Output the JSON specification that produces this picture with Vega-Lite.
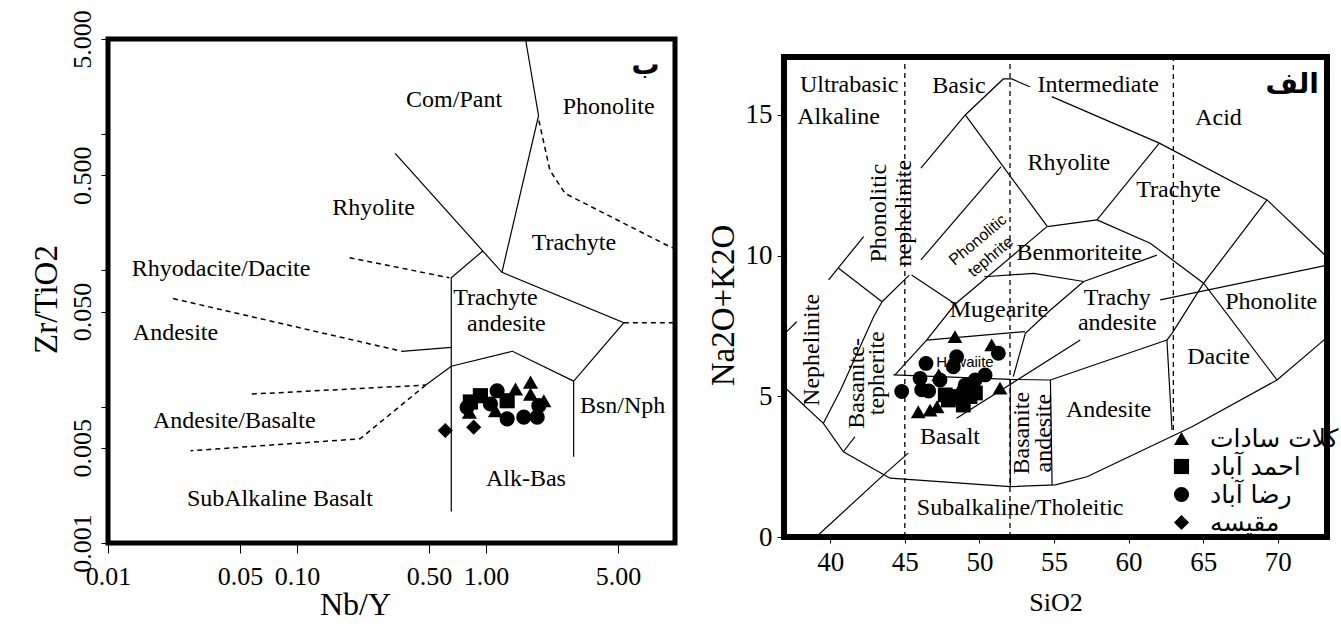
{
  "$schema": "https://vega.github.io/schema/vega-lite/v6.json",
  "background": "white",
  "padding": {"left": 27, "top": 7, "right": 5, "bottom": 5},
  "spacing": 23,
  "config": {
    "font": "Liberation Serif",
    "axis": {"grid": false, "domain": false, "tickColor": "black", "labelColor": "black", "titleColor": "black", "labelFont": "Liberation Serif", "titleFont": "Liberation Serif", "titleFontWeight": "normal"}
  },
  "resolve": {"scale": {"shape": "independent"}, "legend": {"shape": "independent"}},
  "datasets": {
    "leftSolid": [
      {"seg": "L1", "o": 1, "x": 1.618, "y": 5}, {"seg": "L1", "o": 2, "x": 1.897, "y": 1.37}, {"seg": "L1", "o": 3, "x": 1.214, "y": 0.097},
      {"seg": "L2", "o": 1, "x": 0.3306, "y": 0.7235}, {"seg": "L2", "o": 2, "x": 1.214, "y": 0.097}, {"seg": "L2", "o": 3, "x": 5.363, "y": 0.04136}, {"seg": "L2", "o": 4, "x": 2.909, "y": 0.01542}, {"seg": "L2", "o": 5, "x": 2.909, "y": 0.0043},
      {"seg": "L3", "o": 1, "x": 0.961, "y": 0.139}, {"seg": "L3", "o": 2, "x": 0.655, "y": 0.0885}, {"seg": "L3", "o": 3, "x": 0.655, "y": 0.0017},
      {"seg": "L4", "o": 1, "x": 0.3584, "y": 0.02553}, {"seg": "L4", "o": 2, "x": 0.655, "y": 0.0273},
      {"seg": "L5", "o": 1, "x": 0.4799, "y": 0.01442}, {"seg": "L5", "o": 2, "x": 0.655, "y": 0.01984}, {"seg": "L5", "o": 3, "x": 1.38, "y": 0.02553}, {"seg": "L5", "o": 4, "x": 2.909, "y": 0.01542}
    ],
    "leftDashed": [
      {"seg": "D1", "o": 1, "x": 1.905, "y": 1.26}, {"seg": "D1", "o": 2, "x": 2.178, "y": 0.544}, {"seg": "D1", "o": 3, "x": 2.622, "y": 0.3676}, {"seg": "D1", "o": 4, "x": 9.36, "y": 0.1498}, {"seg": "D1", "o": 5, "x": 10, "y": 0.145},
      {"seg": "D2", "o": 1, "x": 5.363, "y": 0.04136}, {"seg": "D2", "o": 2, "x": 10, "y": 0.04136},
      {"seg": "D3", "o": 1, "x": 0.1897, "y": 0.1239}, {"seg": "D3", "o": 2, "x": 0.64, "y": 0.0885},
      {"seg": "D4", "o": 1, "x": 0.02209, "y": 0.06225}, {"seg": "D4", "o": 2, "x": 0.3584, "y": 0.02553},
      {"seg": "D5", "o": 1, "x": 0.05765, "y": 0.01239}, {"seg": "D5", "o": 2, "x": 0.4799, "y": 0.01442},
      {"seg": "D6", "o": 1, "x": 0.4799, "y": 0.01442}, {"seg": "D6", "o": 2, "x": 0.2157, "y": 0.00582}, {"seg": "D6", "o": 3, "x": 0.02736, "y": 0.004753}
    ],
    "leftLabels": [
      {"label": "Com/Pant", "x": 0.678, "y": 1.78},
      {"label": "Phonolite", "x": 4.456, "y": 1.595},
      {"label": "Rhyolite", "x": 0.254, "y": 0.2856},
      {"label": "Trachyte", "x": 2.916, "y": 0.1586},
      {"label": "Rhyodacite/Dacite", "x": 0.03966, "y": 0.1025},
      {"label": "Trachyte", "x": 1.122, "y": 0.0625},
      {"label": "andesite", "x": 1.282, "y": 0.0405},
      {"label": "Andesite", "x": 0.02275, "y": 0.03494},
      {"label": "Andesite/Basalte", "x": 0.04656, "y": 0.00791},
      {"label": "SubAlkaline Basalt", "x": 0.0812, "y": 0.002121},
      {"label": "Alk-Bas", "x": 1.626, "y": 0.002969},
      {"label": "Bsn/Nph", "x": 5.28, "y": 0.01018}
    ],
    "leftPoints": [
      {"group": "مقیسه", "x": 0.609, "y": 0.00669}, {"group": "مقیسه", "x": 0.861, "y": 0.00708},
      {"group": "احمد آباد", "x": 0.934, "y": 0.01205}, {"group": "احمد آباد", "x": 1.294, "y": 0.01107}, {"group": "احمد آباد", "x": 0.827, "y": 0.01084},
      {"group": "رضا آباد", "x": 0.794, "y": 0.00991}, {"group": "رضا آباد", "x": 1.145, "y": 0.0131}, {"group": "رضا آباد", "x": 1.294, "y": 0.00815}, {"group": "رضا آباد", "x": 1.585, "y": 0.00838}, {"group": "رضا آباد", "x": 1.866, "y": 0.00838}, {"group": "رضا آباد", "x": 1.904, "y": 0.01018}, {"group": "رضا آباد", "x": 1.055, "y": 0.01048},
      {"group": "کلات سادات", "x": 1.432, "y": 0.01349}, {"group": "کلات سادات", "x": 1.72, "y": 0.01517}, {"group": "کلات سادات", "x": 2.023, "y": 0.01107}, {"group": "کلات سادات", "x": 1.122, "y": 0.00936}, {"group": "کلات سادات", "x": 1.72, "y": 0.01239}, {"group": "کلات سادات", "x": 0.817, "y": 0.00912}
    ],
    "rightSolid": [
      {"seg": "R1", "o": 1, "x": 46.08, "y": 13.11}, {"seg": "R1", "o": 2, "x": 49.05, "y": 15.0}, {"seg": "R1", "o": 3, "x": 51.6, "y": 16.28}, {"seg": "R1", "o": 4, "x": 52.17, "y": 16.28}, {"seg": "R1", "o": 5, "x": 53.38, "y": 16.0},
      {"seg": "R2", "o": 1, "x": 54.85, "y": 15.65}, {"seg": "R2", "o": 2, "x": 62.06, "y": 14.0}, {"seg": "R2", "o": 3, "x": 69.28, "y": 11.98}, {"seg": "R2", "o": 4, "x": 72.81, "y": 10.2}, {"seg": "R2", "o": 5, "x": 73.3, "y": 9.95},
      {"seg": "R3", "o": 1, "x": 49.05, "y": 15.0}, {"seg": "R3", "o": 2, "x": 54.56, "y": 11.03},
      {"seg": "R4", "o": 1, "x": 54.56, "y": 11.03}, {"seg": "R4", "o": 2, "x": 57.88, "y": 11.27},
      {"seg": "R5", "o": 1, "x": 57.88, "y": 11.27}, {"seg": "R5", "o": 2, "x": 62.06, "y": 14.0},
      {"seg": "R6", "o": 1, "x": 57.88, "y": 11.27}, {"seg": "R6", "o": 2, "x": 61.45, "y": 10.44}, {"seg": "R6", "o": 3, "x": 65.03, "y": 9.02}, {"seg": "R6", "o": 4, "x": 69.95, "y": 5.58},
      {"seg": "R7", "o": 1, "x": 69.28, "y": 11.98}, {"seg": "R7", "o": 2, "x": 65.03, "y": 9.02}, {"seg": "R7", "o": 3, "x": 62.91, "y": 7.24}, {"seg": "R7", "o": 4, "x": 62.57, "y": 7.0}, {"seg": "R7", "o": 5, "x": 62.91, "y": 3.8},
      {"seg": "R9", "o": 1, "x": 62.12, "y": 8.43}, {"seg": "R9", "o": 2, "x": 72.85, "y": 9.61}, {"seg": "R9", "o": 3, "x": 73.3, "y": 9.66},
      {"seg": "R10", "o": 1, "x": 54.76, "y": 5.58}, {"seg": "R10", "o": 2, "x": 62.57, "y": 7.0},
      {"seg": "R11", "o": 1, "x": 44.23, "y": 5.76}, {"seg": "R11", "o": 2, "x": 52.07, "y": 5.6}, {"seg": "R11", "o": 3, "x": 54.76, "y": 5.58},
      {"seg": "R12", "o": 1, "x": 52.07, "y": 5.6}, {"seg": "R12", "o": 2, "x": 52.07, "y": 1.8},
      {"seg": "R13", "o": 1, "x": 54.76, "y": 5.58}, {"seg": "R13", "o": 2, "x": 54.87, "y": 1.85},
      {"seg": "R14", "o": 1, "x": 36.9, "y": 5.34}, {"seg": "R14", "o": 2, "x": 39.54, "y": 4.04}, {"seg": "R14", "o": 3, "x": 40.88, "y": 3.03}, {"seg": "R14", "o": 4, "x": 44.01, "y": 2.09}, {"seg": "R14", "o": 5, "x": 52.05, "y": 1.79}, {"seg": "R14", "o": 6, "x": 55.09, "y": 1.85}, {"seg": "R14", "o": 7, "x": 57.21, "y": 2.14}, {"seg": "R14", "o": 8, "x": 64.25, "y": 3.92}, {"seg": "R14", "o": 9, "x": 69.95, "y": 5.58}, {"seg": "R14", "o": 10, "x": 72.85, "y": 6.89}, {"seg": "R14", "o": 11, "x": 73.3, "y": 7.1},
      {"seg": "R15", "o": 1, "x": 43.47, "y": 8.36}, {"seg": "R15", "o": 2, "x": 42.91, "y": 7.83}, {"seg": "R15", "o": 3, "x": 40.7, "y": 5.23}, {"seg": "R15", "o": 4, "x": 39.54, "y": 4.04},
      {"seg": "R16", "o": 1, "x": 41.66, "y": 3.57}, {"seg": "R16", "o": 2, "x": 40.88, "y": 3.03},
      {"seg": "R17", "o": 1, "x": 39.05, "y": 0}, {"seg": "R17", "o": 2, "x": 43.56, "y": 2.2}, {"seg": "R17", "o": 3, "x": 45.23, "y": 2.98},
      {"seg": "R18", "o": 1, "x": 37.08, "y": 7.3}, {"seg": "R18", "o": 2, "x": 37.75, "y": 7.65},
      {"seg": "R19", "o": 1, "x": 39.89, "y": 9.14}, {"seg": "R19", "o": 2, "x": 42.24, "y": 10.68},
      {"seg": "R20", "o": 1, "x": 40.56, "y": 9.55}, {"seg": "R20", "o": 2, "x": 43.47, "y": 8.36},
      {"seg": "R21", "o": 1, "x": 43.47, "y": 8.36}, {"seg": "R21", "o": 2, "x": 45.3, "y": 9.31},
      {"seg": "R22", "o": 1, "x": 45.45, "y": 9.31}, {"seg": "R22", "o": 2, "x": 48.38, "y": 8.28},
      {"seg": "R23", "o": 1, "x": 44.34, "y": 5.76}, {"seg": "R23", "o": 2, "x": 46.46, "y": 7.0}, {"seg": "R23", "o": 3, "x": 48.38, "y": 8.28}, {"seg": "R23", "o": 4, "x": 54.53, "y": 11.03},
      {"seg": "R24", "o": 1, "x": 46.08, "y": 9.85}, {"seg": "R24", "o": 2, "x": 51.45, "y": 13.16},
      {"seg": "R25", "o": 1, "x": 46.46, "y": 7.0}, {"seg": "R25", "o": 2, "x": 53.06, "y": 7.3},
      {"seg": "R26", "o": 1, "x": 56.99, "y": 9.08}, {"seg": "R26", "o": 2, "x": 54.76, "y": 8.07}, {"seg": "R26", "o": 3, "x": 53.08, "y": 7.24}, {"seg": "R26", "o": 4, "x": 52.27, "y": 5.7},
      {"seg": "R27", "o": 1, "x": 50.32, "y": 9.25}, {"seg": "R27", "o": 2, "x": 53.63, "y": 9.37}, {"seg": "R27", "o": 3, "x": 56.99, "y": 9.08},
      {"seg": "R28", "o": 1, "x": 56.99, "y": 9.08}, {"seg": "R28", "o": 2, "x": 61.9, "y": 10.02},
      {"seg": "R29", "o": 1, "x": 48.47, "y": 4.22}, {"seg": "R29", "o": 2, "x": 56.76, "y": 7.0}
    ],
    "rightDashed": [
      {"seg": "V45", "o": 1, "x": 45.0, "y": 0}, {"seg": "V45", "o": 2, "x": 45.0, "y": 17.06},
      {"seg": "V52", "o": 1, "x": 52.05, "y": 0}, {"seg": "V52", "o": 2, "x": 52.05, "y": 17.06},
      {"seg": "V63", "o": 1, "x": 63.0, "y": 3.8}, {"seg": "V63", "o": 2, "x": 63.0, "y": 17.06}
    ],
    "rightLabels": [
      {"label": "Ultrabasic", "x": 41.27, "y": 16.07},
      {"label": "Alkaline", "x": 40.56, "y": 14.94},
      {"label": "Basic", "x": 48.63, "y": 16.03},
      {"label": "Intermediate", "x": 57.96, "y": 16.07},
      {"label": "Acid", "x": 66.03, "y": 14.88},
      {"label": "Rhyolite", "x": 55.99, "y": 13.28},
      {"label": "Trachyte", "x": 63.34, "y": 12.34},
      {"label": "Benmoriteite", "x": 56.69, "y": 10.08},
      {"label": "Trachy", "x": 59.24, "y": 8.5},
      {"label": "andesite", "x": 59.24, "y": 7.6},
      {"label": "Phonolite", "x": 69.56, "y": 8.37},
      {"label": "Mugearite", "x": 51.31, "y": 8.07},
      {"label": "Basalt", "x": 48.03, "y": 3.57},
      {"label": "Andesite", "x": 58.66, "y": 4.51},
      {"label": "Dacite", "x": 66.03, "y": 6.41},
      {"label": "Subalkaline/Tholeitic", "x": 52.73, "y": 1.02}
    ],
    "rightVertical": [
      {"label": "Phonolitic", "x": 43.25, "y": 11.51},
      {"label": "nephelinite", "x": 44.95, "y": 11.51},
      {"label": "Nephelinite", "x": 38.75, "y": 6.65},
      {"label": "Basanite-", "x": 41.77, "y": 5.46},
      {"label": "tepherite", "x": 43.11, "y": 5.82},
      {"label": "Basanite", "x": 52.86, "y": 3.69},
      {"label": "andesite", "x": 54.3, "y": 3.69}
    ],
    "rightTilted": [
      {"label": "Phonolitic", "x": 49.9, "y": 10.56},
      {"label": "tephrite", "x": 50.75, "y": 9.96}
    ],
    "rightPoints": [
      {"group": "کلات سادات", "x": 48.36, "y": 7.12}, {"group": "کلات سادات", "x": 50.82, "y": 6.83}, {"group": "کلات سادات", "x": 51.38, "y": 5.29}, {"group": "کلات سادات", "x": 45.9, "y": 4.45}, {"group": "کلات سادات", "x": 46.69, "y": 4.51}, {"group": "کلات سادات", "x": 47.16, "y": 4.63}, {"group": "کلات سادات", "x": 48.72, "y": 5.29}, {"group": "کلات سادات", "x": 47.27, "y": 5.76},
      {"group": "رضا آباد", "x": 51.27, "y": 6.53}, {"group": "رضا آباد", "x": 46.42, "y": 6.17}, {"group": "رضا آباد", "x": 48.47, "y": 6.41}, {"group": "رضا آباد", "x": 48.25, "y": 6.05}, {"group": "رضا آباد", "x": 50.38, "y": 5.76}, {"group": "رضا آباد", "x": 44.79, "y": 5.17}, {"group": "رضا آباد", "x": 46.02, "y": 5.64}, {"group": "رضا آباد", "x": 46.13, "y": 5.23}, {"group": "رضا آباد", "x": 47.36, "y": 5.58}, {"group": "رضا آباد", "x": 49.71, "y": 5.58}, {"group": "رضا آباد", "x": 46.6, "y": 5.19}, {"group": "رضا آباد", "x": 49.05, "y": 5.4},
      {"group": "احمد آباد", "x": 48.92, "y": 4.69}, {"group": "احمد آباد", "x": 48.47, "y": 4.99}, {"group": "احمد آباد", "x": 49.37, "y": 4.99}, {"group": "احمد آباد", "x": 47.92, "y": 4.87}, {"group": "احمد آباد", "x": 47.71, "y": 5.05}, {"group": "احمد آباد", "x": 49.73, "y": 5.12}
    ]
  },
  "hconcat": [
    {
      "width": 567,
      "height": 504,
      "view": {"stroke": "black", "strokeWidth": 5},
      "encoding": {
        "x": {"field": "x", "type": "quantitative", "scale": {"type": "log", "domain": [0.01, 10], "nice": false},
          "axis": {"title": "Nb/Y", "values": [0.01, 0.05, 0.1, 0.5, 1, 5], "format": ".2f", "labelFontSize": 26, "tickSize": 10, "labelPadding": 10, "labelFlush": false, "titleFontSize": 32, "titlePadding": 0, "titleX": 247}},
        "y": {"field": "y", "type": "quantitative", "scale": {"type": "log", "domain": [0.001, 5], "nice": false},
          "axis": {"title": "Zr/TiO2", "values": [0.001, 0.005, 0.01, 0.05, 0.1, 0.5, 1, 5], "labelExpr": "indexof([0.001, 0.005, 0.05, 0.5, 5], datum.value) >= 0 ? format(datum.value, '.3f') : ''", "labelAngle": 270, "labelAlign": "center", "labelBaseline": "bottom", "labelFontSize": 26, "tickSize": 7, "labelPadding": 6, "labelFlush": false, "titleFontSize": 33, "titlePadding": 6, "titleY": 260}}
      },
      "layer": [
        {"data": {"name": "leftSolid"}, "mark": {"type": "line", "stroke": "black", "strokeWidth": 1.2}, "encoding": {"detail": {"field": "seg"}, "order": {"field": "o"}}},
        {"data": {"name": "leftDashed"}, "mark": {"type": "line", "stroke": "black", "strokeWidth": 1.5, "strokeDash": [5, 4]}, "encoding": {"detail": {"field": "seg"}, "order": {"field": "o"}}},
        {"data": {"name": "leftLabels"}, "mark": {"type": "text", "font": "Liberation Serif", "fontSize": 24, "color": "black"}, "encoding": {"text": {"field": "label"}}},
        {"data": {"values": [{"label": "ب", "x": 6.99, "y": 3.18}]}, "mark": {"type": "text", "font": "DejaVu Sans", "fontSize": 28, "fontWeight": "bold", "color": "black"}, "encoding": {"text": {"field": "label"}}},
        {"data": {"name": "leftPoints"}, "mark": {"type": "point", "filled": true, "color": "black", "size": 230, "opacity": 1},
          "encoding": {"shape": {"field": "group", "type": "nominal", "scale": {"domain": ["کلات سادات", "احمد آباد", "رضا آباد", "مقیسه"], "range": ["triangle-up", "square", "circle", "diamond"]}, "legend": null}}}
      ]
    },
    {
      "spacing": 2,
      "resolve": {"scale": {"shape": "independent"}, "legend": {"shape": "independent"}},
      "vconcat": [
        {
          "width": 20,
          "height": 10,
          "view": {"stroke": null, "fill": null},
          "data": {"values": [{"spacer": 1}]},
          "mark": {"type": "rect", "opacity": 0},
          "encoding": {}
        },
        {
          "width": 543,
          "height": 480,
          "view": {"stroke": "black", "strokeWidth": 6},
          "encoding": {
            "x": {"field": "x", "type": "quantitative", "scale": {"domain": [36.9, 73.3], "nice": false, "zero": false},
              "axis": {"title": "SiO2", "values": [40, 45, 50, 55, 60, 65, 70], "labelFontSize": 27, "tickSize": 6, "labelPadding": 6, "titleFontSize": 26, "titlePadding": 14}},
            "y": {"field": "y", "type": "quantitative", "scale": {"domain": [0, 17.06], "nice": false},
              "axis": {"title": "Na2O+K2O", "values": [0, 5, 10, 15], "labelFontSize": 27, "tickSize": 7, "labelPadding": 5, "titleFontSize": 33, "titlePadding": 5, "titleY": 248}}
          },
          "layer": [
            {"data": {"name": "rightSolid"}, "mark": {"type": "line", "stroke": "black", "strokeWidth": 1.2}, "encoding": {"detail": {"field": "seg"}, "order": {"field": "o"}}},
            {"data": {"name": "rightDashed"}, "mark": {"type": "line", "stroke": "black", "strokeWidth": 1.3, "strokeDash": [5, 4]}, "encoding": {"detail": {"field": "seg"}, "order": {"field": "o"}}},
            {"data": {"name": "rightLabels"}, "mark": {"type": "text", "font": "Liberation Serif", "fontSize": 24, "color": "black"}, "encoding": {"text": {"field": "label"}}},
            {"data": {"name": "rightVertical"}, "mark": {"type": "text", "font": "Liberation Serif", "fontSize": 24, "angle": 270, "color": "black"}, "encoding": {"text": {"field": "label"}}},
            {"data": {"name": "rightTilted"}, "mark": {"type": "text", "font": "Liberation Sans", "fontSize": 16, "angle": 320, "color": "black"}, "encoding": {"text": {"field": "label"}}},
            {"data": {"values": [{"label": "Hawaiite", "x": 49.03, "y": 6.23}]}, "mark": {"type": "text", "font": "Liberation Sans", "fontSize": 15, "color": "black"}, "encoding": {"text": {"field": "label"}}},
            {"data": {"values": [{"label": "الف", "x": 70.97, "y": 16.07}]}, "mark": {"type": "text", "font": "DejaVu Sans", "fontSize": 28, "fontWeight": "bold", "color": "black"}, "encoding": {"text": {"field": "label"}}},
            {"data": {"name": "rightPoints"}, "mark": {"type": "point", "filled": true, "color": "black", "size": 220, "opacity": 1},
              "encoding": {"shape": {"field": "group", "type": "nominal", "scale": {"domain": ["کلات سادات", "احمد آباد", "رضا آباد", "مقیسه"], "range": ["triangle-up", "square", "circle", "diamond"]},
                "legend": {"orient": "none", "legendX": 385, "legendY": 369, "title": null, "padding": 0, "labelFont": "DejaVu Sans", "labelFontSize": 25, "labelColor": "black", "symbolSize": 230, "symbolFillColor": "black", "symbolStrokeColor": "black", "symbolStrokeWidth": 0, "rowPadding": 2, "labelOffset": 16}}}}
          ]
        }
      ]
    }
  ]
}
